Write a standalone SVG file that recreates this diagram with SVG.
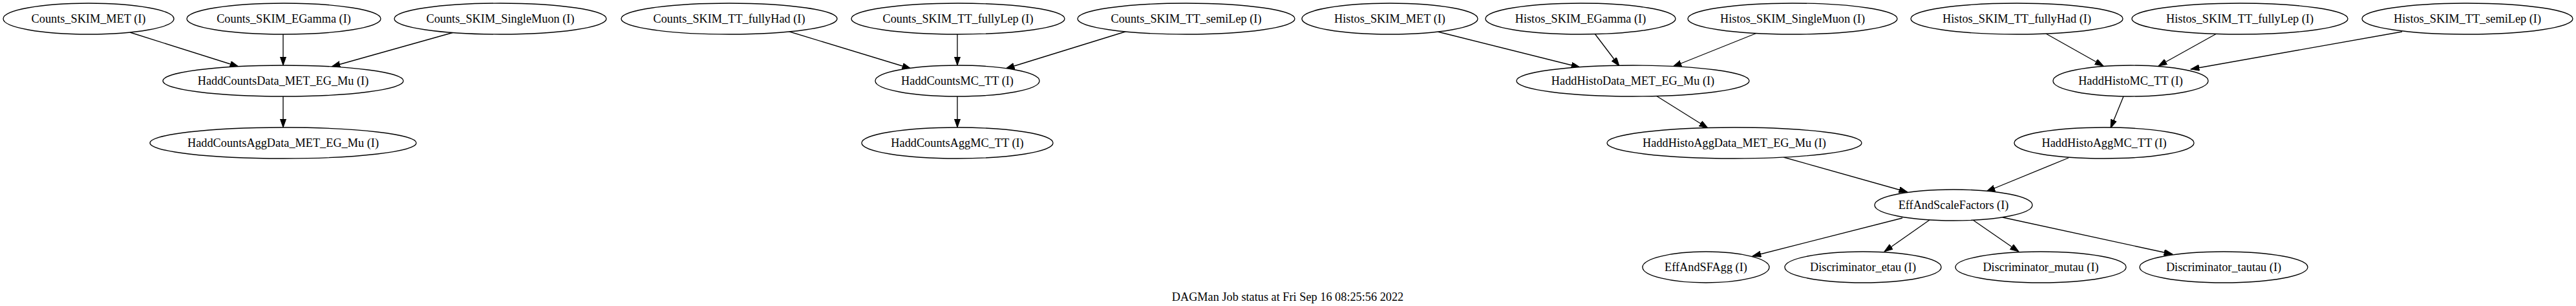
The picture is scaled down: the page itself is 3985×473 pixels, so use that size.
<svg xmlns="http://www.w3.org/2000/svg" width="3985" height="473" viewBox="0 0 3985 473">
<style>
  .n ellipse { fill: #ffffff; stroke: #000000; stroke-width: 1.34; }
  .n text, .cap { font-family: "Liberation Serif", "Times New Roman", serif; font-size: 18.3px; fill: #000000; text-anchor: middle; }
  .e line { stroke: #000000; stroke-width: 1.34; marker-end: url(#arr); }
</style>
<defs>
  <marker id="arr" markerUnits="userSpaceOnUse" markerWidth="14" markerHeight="10" refX="13.4" refY="4.7" orient="auto">
    <path d="M0,0 L13.4,4.7 L0,9.4 Z" fill="#000000" stroke="#000000" stroke-width="1"/>
  </marker>
</defs>
<rect width="3985" height="473" fill="#ffffff"/>
<g id="edges" class="e">
  <line x1="201" y1="50" x2="369" y2="103"/>
  <line x1="438" y1="53" x2="438" y2="101"/>
  <line x1="702" y1="50" x2="513" y2="103"/>
  <line x1="438" y1="149" x2="438" y2="197"/>
  <line x1="1205" y1="44" x2="1409" y2="106"/>
  <line x1="1481" y1="53" x2="1481" y2="101"/>
  <line x1="1757" y1="44" x2="1556" y2="106"/>
  <line x1="1481" y1="149" x2="1481" y2="197"/>
  <line x1="2224" y1="49" x2="2444" y2="104"/>
  <line x1="2467" y1="52" x2="2505" y2="102"/>
  <line x1="2718" y1="51" x2="2588" y2="103"/>
  <line x1="2562" y1="148" x2="2642" y2="198"/>
  <line x1="3165" y1="52" x2="3254" y2="102"/>
  <line x1="3429" y1="52" x2="3339" y2="102"/>
  <line x1="3716" y1="49" x2="3389" y2="107"/>
  <line x1="3285" y1="149" x2="3265" y2="198"/>
  <line x1="2759" y1="243" x2="2951" y2="297"/>
  <line x1="3200" y1="244" x2="3073" y2="296"/>
  <line x1="2943" y1="337" x2="2711" y2="396"/>
  <line x1="2985" y1="340" x2="2915" y2="389"/>
  <line x1="3052" y1="340" x2="3123" y2="389"/>
  <line x1="3098" y1="336" x2="3361" y2="393"/>
</g>
<g id="Counts_SKIM_MET" class="n"><ellipse cx="137" cy="29" rx="132" ry="24"/><text x="137" y="35">Counts_SKIM_MET (I)</text></g>
<g id="Counts_SKIM_EGamma" class="n"><ellipse cx="439" cy="29" rx="150" ry="24"/><text x="439" y="35">Counts_SKIM_EGamma (I)</text></g>
<g id="Counts_SKIM_SingleMuon" class="n"><ellipse cx="774" cy="29" rx="164" ry="24"/><text x="774" y="35">Counts_SKIM_SingleMuon (I)</text></g>
<g id="Counts_SKIM_TT_fullyHad" class="n"><ellipse cx="1128" cy="29" rx="167" ry="24"/><text x="1128" y="35">Counts_SKIM_TT_fullyHad (I)</text></g>
<g id="Counts_SKIM_TT_fullyLep" class="n"><ellipse cx="1482" cy="29" rx="165" ry="24"/><text x="1482" y="35">Counts_SKIM_TT_fullyLep (I)</text></g>
<g id="Counts_SKIM_TT_semiLep" class="n"><ellipse cx="1835" cy="29" rx="168" ry="24"/><text x="1835" y="35">Counts_SKIM_TT_semiLep (I)</text></g>
<g id="Histos_SKIM_MET" class="n"><ellipse cx="2150" cy="29" rx="136" ry="24"/><text x="2150" y="35">Histos_SKIM_MET (I)</text></g>
<g id="Histos_SKIM_EGamma" class="n"><ellipse cx="2445" cy="29" rx="147" ry="24"/><text x="2445" y="35">Histos_SKIM_EGamma (I)</text></g>
<g id="Histos_SKIM_SingleMuon" class="n"><ellipse cx="2773" cy="29" rx="162" ry="24"/><text x="2773" y="35">Histos_SKIM_SingleMuon (I)</text></g>
<g id="Histos_SKIM_TT_fullyHad" class="n"><ellipse cx="3120" cy="29" rx="164" ry="24"/><text x="3120" y="35">Histos_SKIM_TT_fullyHad (I)</text></g>
<g id="Histos_SKIM_TT_fullyLep" class="n"><ellipse cx="3465" cy="29" rx="167" ry="24"/><text x="3465" y="35">Histos_SKIM_TT_fullyLep (I)</text></g>
<g id="Histos_SKIM_TT_semiLep" class="n"><ellipse cx="3817" cy="29" rx="163" ry="24"/><text x="3817" y="35">Histos_SKIM_TT_semiLep (I)</text></g>
<g id="HaddCountsData_MET_EG_Mu" class="n"><ellipse cx="438" cy="125" rx="186" ry="24"/><text x="438" y="131">HaddCountsData_MET_EG_Mu (I)</text></g>
<g id="HaddCountsMC_TT" class="n"><ellipse cx="1481" cy="125" rx="127" ry="24"/><text x="1481" y="131">HaddCountsMC_TT (I)</text></g>
<g id="HaddHistoData_MET_EG_Mu" class="n"><ellipse cx="2526" cy="125" rx="180" ry="24"/><text x="2526" y="131">HaddHistoData_MET_EG_Mu (I)</text></g>
<g id="HaddHistoMC_TT" class="n"><ellipse cx="3296" cy="125" rx="120" ry="24"/><text x="3296" y="131">HaddHistoMC_TT (I)</text></g>
<g id="HaddCountsAggData_MET_EG_Mu" class="n"><ellipse cx="438" cy="221" rx="206" ry="24"/><text x="438" y="227">HaddCountsAggData_MET_EG_Mu (I)</text></g>
<g id="HaddCountsAggMC_TT" class="n"><ellipse cx="1481" cy="221" rx="148" ry="24"/><text x="1481" y="227">HaddCountsAggMC_TT (I)</text></g>
<g id="HaddHistoAggData_MET_EG_Mu" class="n"><ellipse cx="2683" cy="221" rx="197" ry="24"/><text x="2683" y="227">HaddHistoAggData_MET_EG_Mu (I)</text></g>
<g id="HaddHistoAggMC_TT" class="n"><ellipse cx="3255" cy="221" rx="139" ry="24"/><text x="3255" y="227">HaddHistoAggMC_TT (I)</text></g>
<g id="EffAndScaleFactors" class="n"><ellipse cx="3022" cy="317" rx="122" ry="24"/><text x="3022" y="323">EffAndScaleFactors (I)</text></g>
<g id="EffAndSFAgg" class="n"><ellipse cx="2639" cy="413" rx="98" ry="24"/><text x="2639" y="419">EffAndSFAgg (I)</text></g>
<g id="Discriminator_etau" class="n"><ellipse cx="2882" cy="413" rx="121" ry="24"/><text x="2882" y="419">Discriminator_etau (I)</text></g>
<g id="Discriminator_mutau" class="n"><ellipse cx="3157" cy="413" rx="132" ry="24"/><text x="3157" y="419">Discriminator_mutau (I)</text></g>
<g id="Discriminator_tautau" class="n"><ellipse cx="3440" cy="413" rx="130" ry="24"/><text x="3440" y="419">Discriminator_tautau (I)</text></g>
<text class="cap" x="1992" y="465">DAGMan Job status at Fri Sep 16 08:25:56 2022</text>
</svg>
